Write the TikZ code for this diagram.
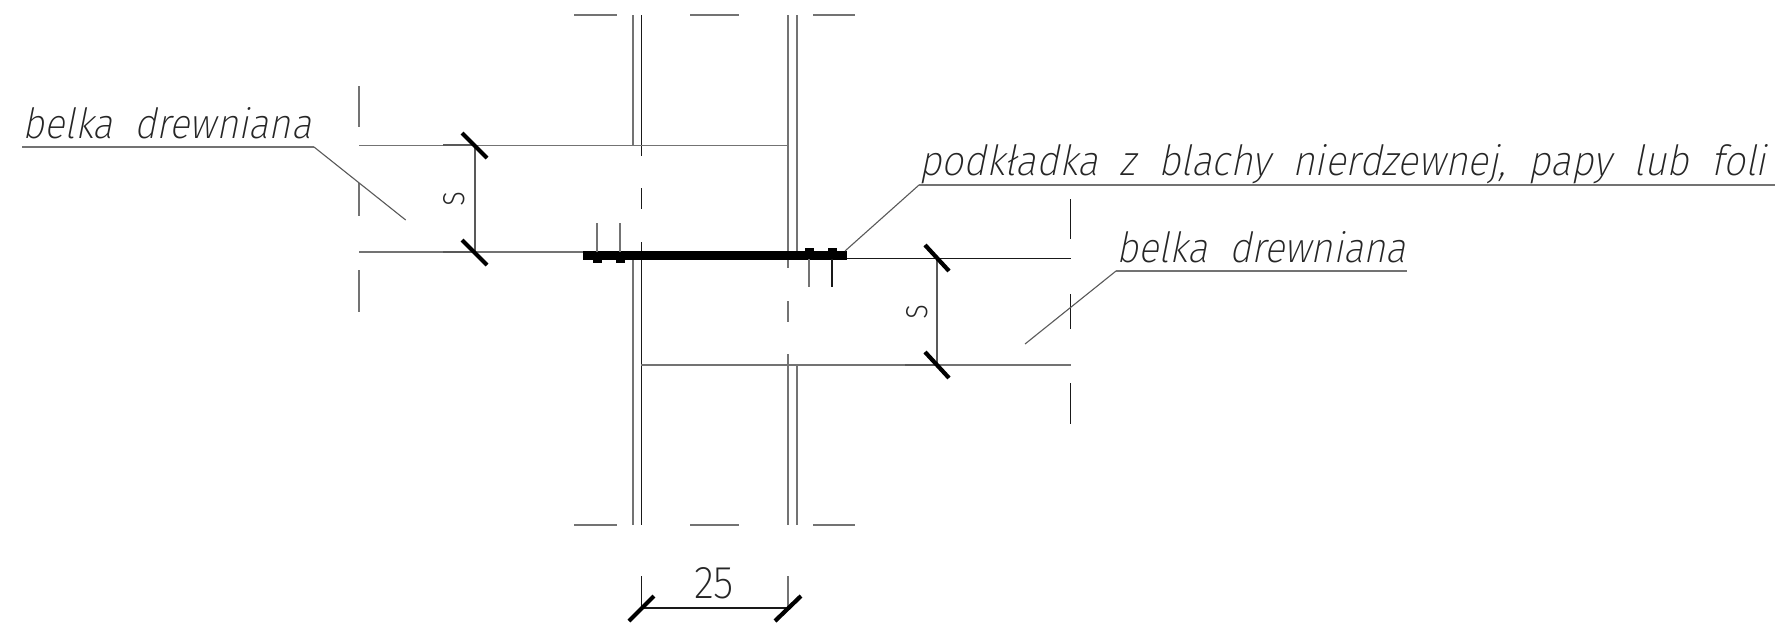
\documentclass[tikz,border=0pt]{standalone}
\usepackage{fontspec}
\newfontfamily\cadit[FakeSlant=0.22]{Fira Sans ExtraLight}
\newfontfamily\cadup{Fira Sans ExtraLight}
\tikzset{
 x=1pt,y=-1pt,
 gl/.style={draw=black!55,line width=1.6pt},
 bl/.style={draw=black!90,line width=1.2pt},
 dl/.style={draw=black!65,line width=1.1pt},
 hl/.style={draw=black!65,line width=1.8pt},
 tick/.style={draw=black,line width=4.2pt},
 plate/.style={fill=black,draw=none},
 lab/.style={inner sep=0pt,anchor=base west,text=black!85},
}
\newcommand{\cadlab}[3]{\resizebox{#1pt}{#2pt}{\cadit #3}}
\begin{document}
\begin{tikzpicture}
\useasboundingbox (0,0) rectangle (1782,624);
\fill[white] (0,0) rectangle (1782,624);
% break dashes
\foreach \y in {15,525}{
 \draw[gl] (574,\y)--(617,\y);
 \draw[gl] (690,\y)--(739,\y);
 \draw[gl] (813,\y)--(855,\y);
}
% columns
\draw[gl] (633,15)--(633,145);
\draw[gl] (633,259)--(633,525);
\draw[bl] (641.3,15)--(641.3,156);
\draw[bl] (641.3,188)--(641.3,209);
\draw[bl] (641.3,242)--(641.3,525);
\draw[gl] (788,15)--(788,268);
\draw[gl] (788,301)--(788,322);
\draw[gl] (788,354)--(788,525);
\draw[gl] (797,15)--(797,251);
\draw[gl] (797,365)--(797,525);
% left beam
\draw[gl] (359,145.3)--(788,145.3);
\draw[gl] (359,252)--(583,252);
\draw[gl] (359,86)--(359,127);
\draw[gl] (359,183)--(359,216);
\draw[gl] (359,270)--(359,312);
\draw[hl] (443,145.3)--(475,145.3);
\draw[hl] (443,252)--(475,252);
% right beam
\draw[bl] (847,258.5)--(1070.5,258.5);
\draw[gl] (641,365)--(1070.5,365);
\draw[hl] (905,365)--(937,365);
\draw[bl] (1070.5,199)--(1070.5,239);
\draw[bl] (1070.5,294)--(1070.5,329);
\draw[bl] (1070.5,383)--(1070.5,424);
% plate
\fill[plate] (583,250.5) rectangle (847,259.5);
\fill[plate] (592.5,258) rectangle (602,262.5);
\fill[plate] (615.5,258) rectangle (625,262.5);
\fill[plate] (804.5,248) rectangle (814,252);
\fill[plate] (827.5,248) rectangle (837,252);
\draw[gl] (597,223)--(597,252);
\draw[gl] (620,223)--(620,252);
\draw[gl] (809,259)--(809,287);
\draw[bl] (832,259)--(832,287);
% dimension s left
\draw[dl] (475,145.3)--(475,252);
\draw[tick] (462,133)--(487,158);
\draw[tick] (462,240)--(487,265);
\node[rotate=90,inner sep=0pt,text=black!85,font=\cadup] (sa) at (454,199) {\resizebox{15pt}{21pt}{s}};
% dimension s right
\draw[dl] (937,258.5)--(937,365);
\draw[tick] (925,245)--(949,271);
\draw[tick] (925,352)--(949,378);
\node[rotate=90,inner sep=0pt,text=black!85,font=\cadup] (sb) at (917,311.5) {\resizebox{15pt}{21pt}{s}};
% dimension 25
\draw[bl] (641.3,576)--(641.3,608);
\draw[gl] (788,576)--(788,608);
\draw[bl] (641.3,608)--(788,608);
\draw[tick] (629,621)--(654,596);
\draw[tick] (775,621)--(801,596);
\node[inner sep=0pt,anchor=base,text=black!85,font=\cadup] (dim) at (714,598) {\resizebox{40pt}{31pt}{25}};
% labels
\node[lab] (la) at (22,138) {\cadlab{289}{31}{belka\ \ drewniana}};
\node[lab] (lb) at (919,175) {\cadlab{847}{31}{podkładka\ \ z\ \ blachy\ \ nierdzewnej,\ \ papy\ \ lub\ \ foli}};
\node[lab] (lc) at (1116,262) {\cadlab{290}{31}{belka\ \ drewniana}};
% leaders
\coordinate (a0) at (22,147); \coordinate (a1) at (314,147); \coordinate (a2) at (405.7,220);
\coordinate (b0) at (845,251); \coordinate (b1) at (919,185); \coordinate (b2) at (1775,185);
\coordinate (c0) at (1025,344); \coordinate (c1) at (1116,271); \coordinate (c2) at (1407,271);
\draw[gl] (a0)--(a1);
\draw[dl] (a1)--(a2);
\draw[dl] (b0)--(b1);
\draw[gl] (b1)--(b2);
\draw[dl] (c0)--(c1);
\draw[gl] (c1)--(c2);
\end{tikzpicture}
\end{document}
